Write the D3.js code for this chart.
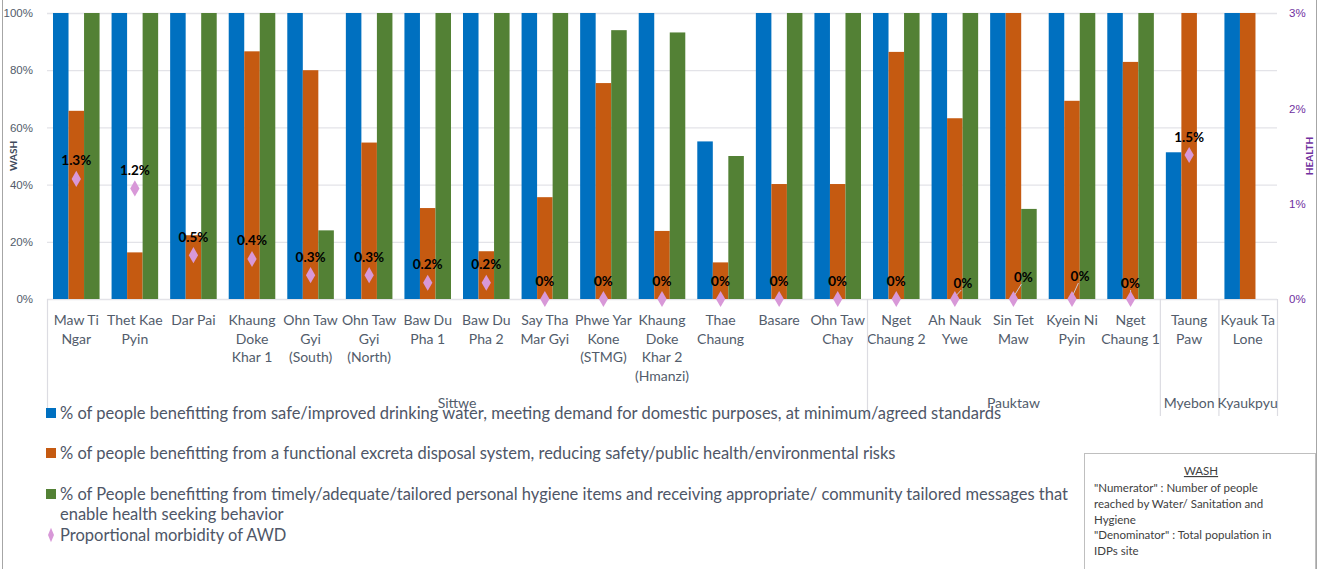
<!DOCTYPE html>
<html>
<head>
<meta charset="utf-8">
<script src="https://cdn.jsdelivr.net/npm/d3@7"></script>
<style>
  body { margin: 0; background: #fff; }
  svg { display: block; font-family: Lato, "Open Sans", sans-serif; }
</style>
</head>
<body>
<svg id="chart" width="1319" height="569"></svg>
<script>
// IDP sites (line breaks as shown on the axis)
const sites = [
    "Maw Ti|Ngar", "Thet Kae|Pyin", "Dar Pai", "Khaung|Doke|Khar 1", "Ohn Taw|Gyi|(South)",
    "Ohn Taw|Gyi|(North)", "Baw Du|Pha 1", "Baw Du|Pha 2", "Say Tha|Mar Gyi", "Phwe Yar|Kone|(STMG)",
    "Khaung|Doke|Khar 2|(Hmanzi)", "Thae|Chaung", "Basare", "Ohn Taw|Chay", "Nget|Chaung 2",
    "Ah Nauk|Ywe", "Sin Tet|Maw", "Kyein Ni|Pyin", "Nget|Chaung 1", "Taung|Paw", "Kyauk Ta|Lone"
];
// townships and how many sites each covers
const townships = ["Sittwe", "Pauktaw", "Myebon", "Kyaukpyu"];
const townshipSizes = [14, 5, 1, 1];

// WASH indicators (% of people)
const water = [100, 100, 100, 100, 100, 100, 100, 100, 100, 100, 100, 55.1, 100, 100, 100, 100, 100, 100, 100, 51.3, 100];
const excreta = [65.8, 16.3, 22.3, 86.6, 80.0, 54.7, 31.8, 16.7, 35.6, 75.5, 23.8, 12.8, 40.2, 40.2, 86.4, 63.2, 100, 69.3, 82.9, 100, 100];
const hygiene = [100, 100, 100, 100, 24.0, 100, 100, 100, 100, 94.0, 93.2, 50.0, 100, 100, 100, 100, 31.5, 100, 100, null, null];
// HEALTH: proportional morbidity of AWD (%)
const awd = [1.26, 1.16, 0.46, 0.42, 0.25, 0.25, 0.17, 0.17, 0, 0, 0, 0, 0, 0, 0, 0, 0, 0, 0, 1.51, null];

const washTicks = [0, 20, 40, 60, 80, 100];
const healthTicks = [0, 1, 2, 3];

const legendLabels = [
    "% of people benefitting from safe/improved drinking water, meeting demand for domestic purposes, at minimum/agreed standards",
    "% of people benefitting from a functional excreta disposal system, reducing safety/public health/environmental risks",
    "% of People benefitting from timely/adequate/tailored personal hygiene items and receiving appropriate/ community tailored messages that|enable health seeking behavior",
    "Proportional morbidity of AWD"
];
const noteLines = ["\"Numerator\" : Number of people", "reached by Water/ Sanitation and", "Hygiene",
    "\"Denominator\" : Total population in", "IDPs site"];

// data labels that were dragged off their point in the original (site index -> [dx, dy])
const labelNudge = { 15: [8, 2], 16: [10, -4], 17: [8, -5], 18: [0, 2] };

const colors = ["#0070c0", "#c55a11", "#538135"];
const diamondColor = "#d898d8";
const textGray = "#525c6b";
const purple = "#7030a0";

const svg = d3.select("#chart");
const plotLeft = 47, plotRight = 1277, plotTop = 13, plotBottom = 299;

const x = d3.scaleBand().domain(d3.range(sites.length)).range([plotLeft, plotRight]).padding(0);
const xs = d3.scaleBand().domain([0, 1, 2]).range([6, x.bandwidth() - 6]).padding(0);
const y = d3.scaleLinear().domain([0, 100]).range([plotBottom, plotTop]);
const y2 = d3.scaleLinear().domain([0, 3]).range([plotBottom, plotTop]);

// chart border
svg.append("rect").attr("x", 2.5).attr("y", -2).attr("width", 1314).attr("height", 580)
    .attr("fill", "none").attr("stroke", "#a6a6a6");

// gridlines
svg.append("g").selectAll("line").data(washTicks).enter().append("line")
    .attr("x1", plotLeft).attr("x2", plotRight)
    .attr("y1", d => y(d) + 0.5).attr("y2", d => y(d) + 0.5)
    .attr("stroke", "#e3e3e8").attr("stroke-width", 1.3);

// left axis
const axL = svg.append("g").attr("transform", `translate(${plotLeft},0)`)
    .call(d3.axisLeft(y).tickValues(washTicks).tickFormat(d => d + "%").tickSize(0).tickPadding(14));
axL.select(".domain").remove();
axL.selectAll("text").attr("fill", textGray).style("font-size", "11.5px");

// right axis
const axR = svg.append("g").attr("transform", `translate(${plotRight},0)`)
    .call(d3.axisRight(y2).tickValues(healthTicks).tickFormat(d => d + "%").tickSize(0).tickPadding(12));
axR.select(".domain").remove();
axR.selectAll("text").attr("fill", purple).style("font-size", "11.5px");

svg.append("text").attr("transform", `translate(17,${(plotTop + plotBottom) / 2}) rotate(-90)`)
    .attr("text-anchor", "middle").attr("fill", "#3f4a5c")
    .style("font-size", "10px").style("font-weight", "bold").text("WASH");
svg.append("text").attr("transform", `translate(1313,${(plotTop + plotBottom) / 2}) rotate(-90)`)
    .attr("text-anchor", "middle").attr("fill", purple)
    .style("font-size", "10px").style("font-weight", "bold").text("HEALTH");

// bars
const series = [water, excreta, hygiene];
series.forEach((vals, s) => {
    svg.append("g").selectAll("rect")
        .data(vals.map((v, i) => ({ i, v })).filter(d => d.v != null))
        .enter().append("rect")
        .attr("x", d => x(d.i) + xs(s))
        .attr("y", d => y(d.v))
        .attr("width", xs.bandwidth())
        .attr("height", d => y(0) - y(d.v))
        .attr("fill", colors[s]);
});

// category labels
const catG = svg.append("g");
sites.forEach((name, i) => {
    const t = catG.append("text").attr("text-anchor", "middle").attr("fill", textGray)
        .style("font-size", "14px");
    name.split("|").forEach((line, k) => {
        t.append("tspan").attr("x", x(i) + x.bandwidth() / 2)
            .attr("y", 325 + k * 18.7).text(line);
    });
});

// township groups
let start = 0;
const bounds = [0];
townshipSizes.forEach(n => { start += n; bounds.push(start); });
svg.append("g").selectAll("line").data(bounds).enter().append("line")
    .attr("x1", d => (d < sites.length ? x(d) : plotRight) + 0.5)
    .attr("x2", d => (d < sites.length ? x(d) : plotRight) + 0.5)
    .attr("y1", plotBottom).attr("y2", 416)
    .attr("stroke", "#dcdce2").attr("stroke-width", 1.2);

// legend
const legY = [413, 453, 494, 535];
legendLabels.forEach((lab, k) => {
    if (k < 3) {
        svg.append("rect").attr("x", 46).attr("y", legY[k] - 5).attr("width", 10).attr("height", 10)
            .attr("fill", colors[k]);
    } else {
        svg.append("path").attr("d", d3.symbol(d3.symbolDiamond, 55)())
            .attr("transform", `translate(51,${legY[k]}) scale(0.75,1.05)`).attr("fill", diamondColor);
    }
    const t = svg.append("text").attr("fill", "#4e5667").style("font-size", "16.5px");
    lab.split("|").forEach((line, j) => {
        t.append("tspan").attr("x", 60).attr("y", legY[k] + 5.5 + j * 20.5).text(line);
    });
});

// township labels (drawn over the legend like in the original)
svg.append("g").selectAll("text").data(townships).enter().append("text")
    .attr("x", (d, i) => (x(bounds[i]) + (bounds[i + 1] < sites.length ? x(bounds[i + 1]) : plotRight)) / 2)
    .attr("y", 408).attr("text-anchor", "middle").attr("fill", textGray)
    .style("font-size", "14px").text(d => d);

// AWD diamonds + labels
const awdPts = awd.map((v, i) => ({ i, v })).filter(d => d.v != null);
const cx = d => x(d.i) + x.bandwidth() / 2;
const nudge = d => labelNudge[d.i] || [0, 0];
svg.append("g").selectAll("line").data(awdPts.filter(d => labelNudge[d.i])).enter().append("line")
    .attr("x1", cx).attr("y1", d => y2(d.v) - 2)
    .attr("x2", d => cx(d) + nudge(d)[0] * 0.8).attr("y2", d => y2(d.v) - 11 + nudge(d)[1])
    .attr("stroke", "#c8c8d8").attr("stroke-width", 1);
svg.append("g").selectAll("path").data(awdPts).enter().append("path")
    .attr("d", d3.symbol(d3.symbolDiamond, 75)())
    .attr("transform", d => `translate(${cx(d)},${y2(d.v)})`)
    .attr("fill", diamondColor);
svg.append("g").selectAll("text").data(awdPts).enter().append("text")
    .attr("x", d => cx(d) + nudge(d)[0])
    .attr("y", d => y2(d.v) - 13.5 + nudge(d)[1])
    .attr("text-anchor", "middle").attr("fill", "#000")
    .style("font-size", "13.5px").style("font-weight", "bold")
    .text(d => d.v === 0 ? "0%" : (Math.round(d.v * 10) / 10).toFixed(1) + "%");

// note box
const box = svg.append("g");
box.append("rect").attr("x", 1084.5).attr("y", 453.5).attr("width", 231).attr("height", 130)
    .attr("fill", "#fff").attr("stroke", "#bfbfbf");
box.append("text").attr("x", 1201).attr("y", 475).attr("text-anchor", "middle")
    .attr("fill", "#404040").style("font-size", "11.5px").style("text-decoration", "underline").text("WASH");
noteLines.forEach((line, k) => {
    box.append("text").attr("x", 1094).attr("y", 492 + k * 15.8).attr("fill", "#404040")
        .style("font-size", "11.5px").text(line);
});
</script>
</body>
</html>
